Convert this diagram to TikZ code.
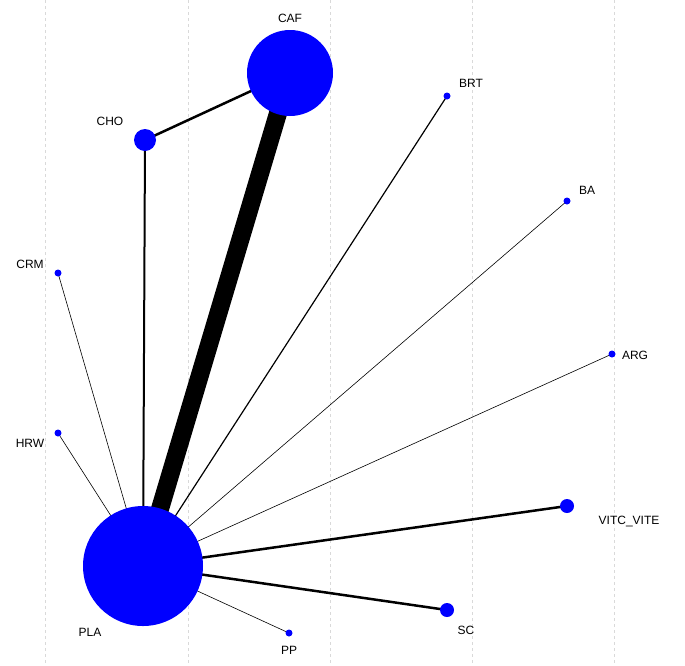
\documentclass[tikz,border=0pt]{standalone}
\usepackage{fontspec}
\setmainfont{Liberation Sans}
\tikzset{
  trt/.style={circle, fill=blue, inner sep=0pt},
  lbl/.style={font=\fontsize{12}{12}\selectfont},
  grid line/.style={gray!30, dashed, line width=0.8pt}
}
\begin{document}
\begin{tikzpicture}[x=1pt, y=-1pt]
	\useasboundingbox (0,0) rectangle (685,665);
	\foreach \gx in {45,188,330,472,614}
		\draw[grid line] (\gx,0) -- (\gx,665);
	% positions
	\coordinate (CAF) at (290,73);
	\coordinate (CHO) at (145,140);
	\coordinate (BRT) at (447,96);
	\coordinate (BA) at (567,201);
	\coordinate (CRM) at (58,273);
	\coordinate (ARG) at (612,354);
	\coordinate (HRW) at (58,433);
	\coordinate (VITC) at (567,506);
	\coordinate (PLA) at (143,566);
	\coordinate (SC) at (447,610);
	\coordinate (PP) at (289,633);
	% edges
	\draw[line width=18pt] (PLA) -- (CAF);
	\draw[line width=2.5pt] (CHO) -- (CAF);
	\draw[line width=2pt] (CHO) -- (PLA);
	\draw[line width=1.2pt] (PLA) -- (BRT);
	\draw[line width=0.6pt] (PLA) -- (BA);
	\draw[line width=0.6pt] (PLA) -- (ARG);
	\draw[line width=0.6pt] (PLA) -- (CRM);
	\draw[line width=0.6pt] (PLA) -- (HRW);
	\draw[line width=0.6pt] (PLA) -- (PP);
	\draw[line width=2.5pt] (PLA) -- (VITC);
	\draw[line width=2.5pt] (PLA) -- (SC);
	% treatments
	\node[trt, minimum size=86pt] (nCAF) at (CAF) {};
	\node[trt, minimum size=22pt] (nCHO) at (CHO) {};
	\node[trt, minimum size=120pt] (nPLA) at (PLA) {};
	\node[trt, minimum size=14pt] (nVITC) at (VITC) {};
	\node[trt, minimum size=14pt] (nSC) at (SC) {};
	\foreach \t in {BRT,BA,CRM,ARG,HRW,PP}
		\node[trt, minimum size=7pt] (n\t) at (\t) {};
	% labels
	\node[lbl] at (290,18) {CAF};
	\node[lbl] at (110,121) {CHO};
	\node[lbl] at (471,83) {BRT};
	\node[lbl] at (587,190) {BA};
	\node[lbl] at (30,264) {CRM};
	\node[lbl] at (635,355) {ARG};
	\node[lbl] at (30,443) {HRW};
	\node[lbl] at (629,521) {VITC\_VITE};
	\node[lbl] at (90,632) {PLA};
	\node[lbl] at (466,630) {SC};
	\node[lbl] at (289,650) {PP};
\end{tikzpicture}
\end{document}
